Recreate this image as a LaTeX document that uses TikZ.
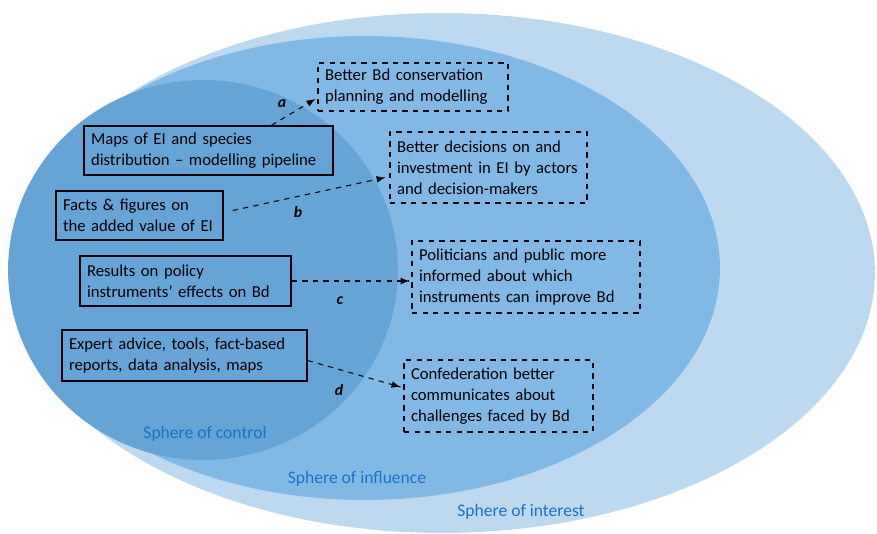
\documentclass[tikz,border=0pt]{standalone}
\usepackage{fontspec}
\setmainfont{Carlito}
\usetikzlibrary{calc}
\usetikzlibrary{arrows,decorations.markings}

\definecolor{interestblue}{RGB}{188,217,240}
\definecolor{influenceblue}{RGB}{130,185,228}
\definecolor{controlblue}{RGB}{102,164,214}
\definecolor{labelblue}{RGB}{25,115,200}

\begin{document}
\begin{tikzpicture}
% define arrow head, boxes (1 unit = 1 px of the sketch)
[
    x=0.02cm, y=-0.02cm,
    decoration={
      markings,
      mark=at position 1 with {\arrow[scale=1.1,black]{latex}};
    },
    outp/.style={draw, thick, inner xsep=4pt, inner ysep=0pt, align=left,
      font=\fontsize{9.5}{12}\selectfont},
    outc/.style={outp, semithick, dashed},
    link/.style={semithick, dashed, postaction={decorate}},
    tag/.style={font=\bfseries\itshape\small},
    sphere/.style={text=labelblue, font=\fontsize{10}{12}\selectfont}
]
\useasboundingbox (0,0) rectangle (877,534);

% spheres
\coordinate (S3) at (442,273);
\coordinate (S2) at (365,268);
\coordinate (S1) at (203,270);
\fill[interestblue] (S3) ellipse [x radius=8.66cm, y radius=5.2cm];
\fill[influenceblue] (S2) ellipse [x radius=7.1cm, y radius=4.64cm];
\fill[controlblue] (S1) ellipse [x radius=3.9cm, y radius=3.8cm];
\node[sphere] (ctrl) at (205,434) {Sphere of control};
\node[sphere] (infl) at (357,479) {Sphere of influence};
\node[sphere] (intr) at (521,512) {Sphere of interest};

% outputs
\node[outp, text width=4.70cm, minimum height=0.98cm] (maps) at (208.5,150.5)
  {Maps of EI and species\\distribution – modelling pipeline};
\node[outp, text width=3.06cm, minimum height=0.98cm] (facts) at (139.5,215.5)
  {Facts \& figures on\\the added value of EI};
\node[outp, text width=3.94cm, minimum height=1.0cm] (polres) at (185.5,281)
  {Results on policy\\instruments' effects on Bd};
\node[outp, text width=4.62cm, minimum height=1.02cm] (expert) at (184.5,355.5)
  {Expert advice, tools, fact-based\\reports, data analysis, maps};

% outcomes
\node[outc, text width=3.52cm, minimum height=0.96cm] (cons) at (413,87)
  {Better Bd conservation\\planning and modelling};
\node[outc, text width=3.66cm, minimum height=1.42cm] (decis) at (488.5,167.5)
  {Better decisions on and\\investment in EI by actors\\and decision-makers};
\node[outc, text width=4.28cm, minimum height=1.44cm] (polinf) at (526,277)
  {Politicians and public more\\informed about which\\instruments can improve Bd};
\node[outc, text width=3.50cm, minimum height=1.44cm] (confed) at (498.5,396)
  {Confederation better\\communicates about\\challenges faced by Bd};

% pathways
\draw[link] ($(maps.north)+(63,0)$) -- ($(cons.west)+(-2,12)$);
\draw[link] ($(facts.east)+(9,-5)$) -- ($(decis.west)+(-4,10)$);
\draw[link] (polres.east) -- ($(polinf.west)+(-2,4)$);
\draw[link] ($(expert.east)+(0,5)$) -- ($(confed.west)+(-3,-9)$);
\node[tag] (ta) at (282,104) {a};
\node[tag] (tb) at (298,212) {b};
\node[tag] (tc) at (340,301) {c};
\node[tag] (td) at (339,390) {d};
\end{tikzpicture}
\end{document}
